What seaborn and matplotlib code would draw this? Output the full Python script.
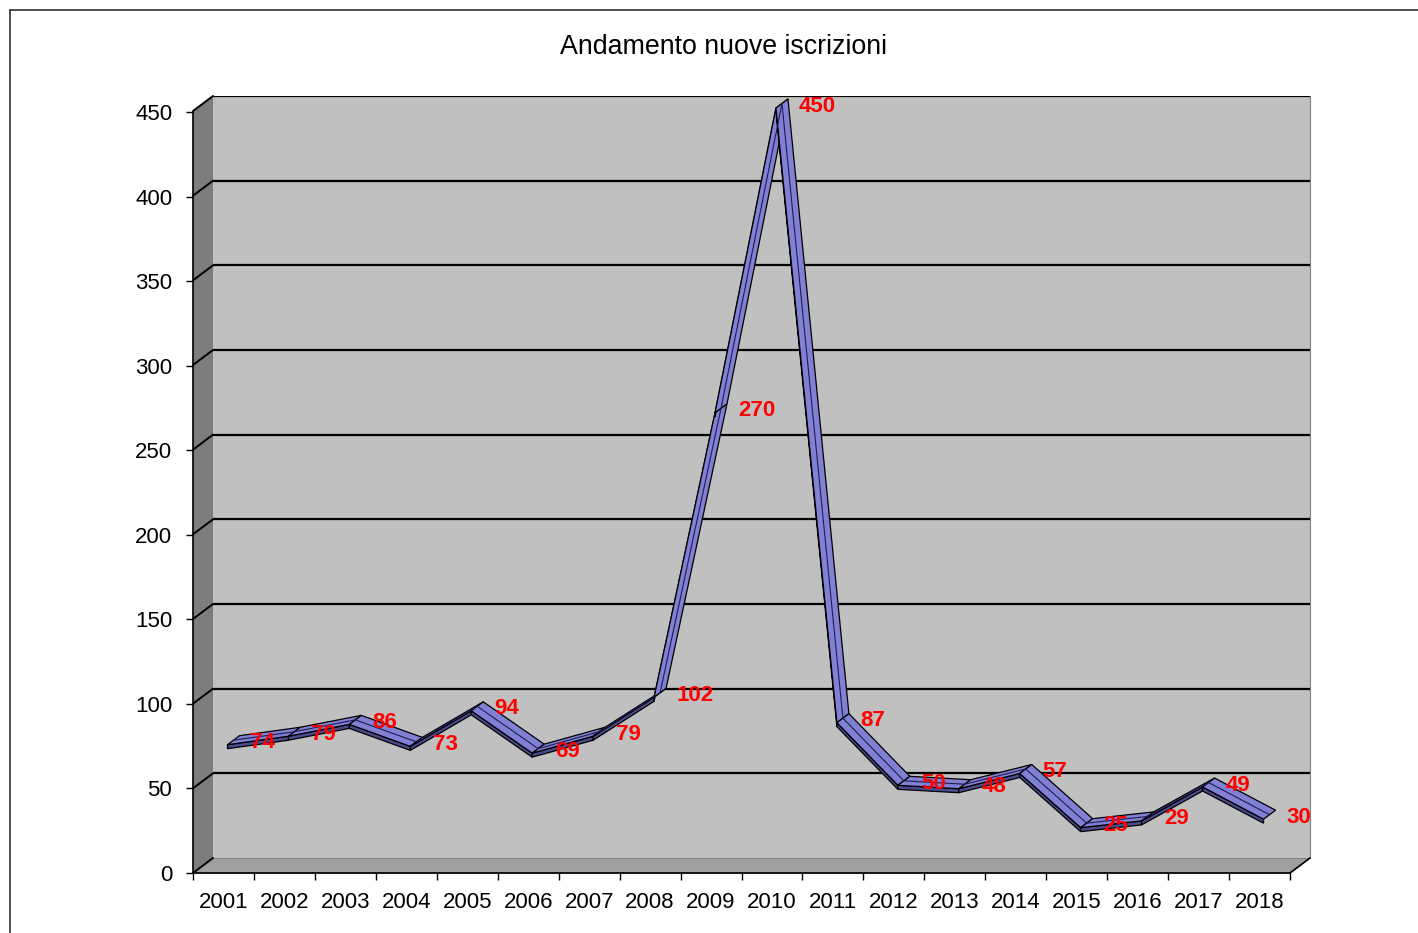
import numpy as np
import matplotlib
matplotlib.use("Agg")
import matplotlib.pyplot as plt
import seaborn as sns
from matplotlib.patches import Polygon
from matplotlib.lines import Line2D
from matplotlib.transforms import ScaledTranslation, IdentityTransform

# dati
anni = ['2001', '2002', '2003', '2004', '2005', '2006', '2007', '2008', '2009',
        '2010', '2011', '2012', '2013', '2014', '2015', '2016', '2017', '2018']
iscrizioni = [74, 79, 86, 73, 94, 69, 79, 102, 270, 450, 87, 50, 48, 57, 25, 29, 49, 30]
tick_y = list(range(0, 451, 50))

W, H = 1418, 933
DX, DY = 20, 15  # profondita' 3D in pixel

sns.set_style("white")
plt.rcParams['font.family'] = ['Liberation Sans', 'DejaVu Sans']
plt.rcParams['text.color'] = 'black'
plt.rcParams['xtick.color'] = 'black'
plt.rcParams['ytick.color'] = 'black'

fig = plt.figure(figsize=(W / 100, H / 100), dpi=100)

# parete di fondo
ax = fig.add_axes([213 / W, (H - 858) / H, 1097 / W, 762 / H])
ax.set_facecolor('#c0c0c0')
ax.set_xlim(-0.5, len(anni) - 0.5)
ax.set_ylim(0, 450)
for v in tick_y[1:]:
    ax.axhline(v, color='black', lw=1.6, zorder=1)
for s in ['left', 'bottom', 'top']:
    ax.spines[s].set_visible(False)
ax.spines['right'].set_color('#808080')
ax.set_xticks([])
ax.set_yticks([])

# assi frontali
axf = fig.add_axes([193 / W, (H - 873) / H, 1097 / W, 761 / H])
axf.patch.set_alpha(0)
axf.set_xlim(-0.5, len(anni) - 0.5)
axf.set_ylim(0, 450)
axf.set_yticks(tick_y)
axf.set_xticks(range(len(anni)))
axf.set_xticklabels(anni)
axf.set_xticks(np.arange(-0.5, len(anni), 1.0), minor=True)
axf.tick_params(axis='y', length=5, width=1, pad=10, labelsize=16, direction='out',
                left=True, labelcolor='black')
axf.tick_params(axis='x', which='major', length=0, pad=14, labelsize=16, labelcolor='black')
axf.tick_params(axis='x', which='minor', length=5, width=1, direction='out', bottom=True)
for s in ['right', 'top']:
    axf.spines[s].set_visible(False)
for s in ['left', 'bottom']:
    axf.spines[s].set_color('black')
    axf.spines[s].set_linewidth(1.2)

fig.canvas.draw()
tb = ax.transData


def disp(x, y):
    return tb.transform((x, y))


# pavimento e parete laterale
x0, x1 = -0.5, len(anni) - 0.5
b00, b01, b10 = disp(x0, 0), disp(x0, 450), disp(x1, 0)
off = np.array([-DX, -DY])
lato = Polygon([b00 + off, b01 + off, b01, b00], closed=True, facecolor='#7d7d7d',
               edgecolor='none', transform=IdentityTransform(), zorder=0)
pav = Polygon([b00 + off, b10 + off, b10, b00], closed=True, facecolor='#a0a0a0',
              edgecolor='#6a6a6a', lw=0.8, transform=IdentityTransform(), zorder=0)
fig.add_artist(lato)
fig.add_artist(pav)
for v in tick_y:
    p = disp(x0, v)
    fig.add_artist(Line2D([p[0] - DX, p[0]], [p[1] - DY, p[1]], color='black', lw=1.4,
                          transform=IdentityTransform()))
fig.add_artist(Line2D([b10[0] - DX, b10[0]], [b10[1] - DY, b10[1]], color='black', lw=1.2,
                      transform=IdentityTransform()))

# linea 3D a nastro
pts = np.array([disp(i, v) for i, v in enumerate(iscrizioni)])
mf = np.array([-16, -12])  # bordo frontale
mb = np.array([-4, -3])    # bordo posteriore
sp = np.array([0, -4])     # spessore
for i in range(len(pts) - 1):
    a, b = pts[i], pts[i + 1]
    fronte = Polygon([a + mf, b + mf, b + mf + sp, a + mf + sp], closed=True,
                     facecolor='#4a4a8c', edgecolor='black', lw=0.9,
                     transform=IdentityTransform(), zorder=5, clip_on=False)
    sopra = Polygon([a + mf, b + mf, b + mb, a + mb], closed=True,
                    facecolor='#8080d4', edgecolor='black', lw=0.9,
                    transform=IdentityTransform(), zorder=5, clip_on=False)
    ax.add_patch(fronte)
    ax.add_patch(sopra)

# linea centrale tramite seaborn
sns.lineplot(x=list(range(len(anni))), y=iscrizioni, ax=ax, color='#1e1e50', lw=0.8,
             zorder=6)
ax.lines[-1].set_transform(ax.transData + ScaledTranslation(-10 / 100, -7.5 / 100,
                                                            fig.dpi_scale_trans))
ax.lines[-1].set_clip_on(False)

# etichette dati
for i, v in enumerate(iscrizioni):
    ax.annotate(str(v), xy=(i, v), xytext=(7, -10), textcoords='offset pixels',
                ha='left', va='center', color='#ff0000', fontsize=16,
                fontweight='bold', zorder=10, annotation_clip=False)

ax.set_xlim(x0, x1)
ax.set_ylim(0, 450)

fig.text(723 / W, 1 - 47 / H, 'Andamento nuove iscrizioni', ha='center', va='center',
         fontsize=19.3, color='black')

# bordo del grafico
fig.add_artist(Line2D([10 / W, 1], [1 - 9.5 / H, 1 - 9.5 / H], color='#333333', lw=1.2,
                      transform=fig.transFigure))
fig.add_artist(Line2D([10 / W, 10 / W], [0, 1 - 9.5 / H], color='#333333', lw=1.2,
                      transform=fig.transFigure))

fig.savefig('out.png', dpi=100)
